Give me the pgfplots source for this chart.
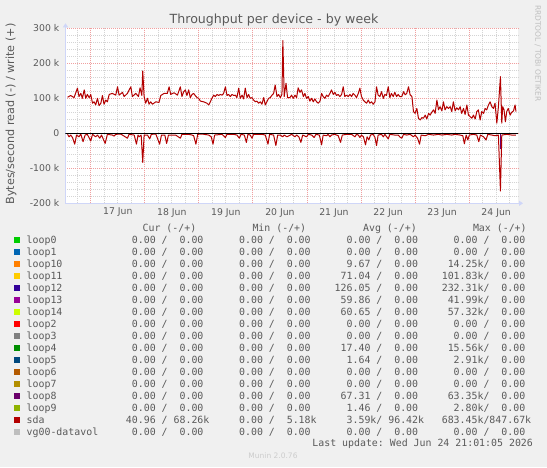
\documentclass[border=0pt]{standalone}
\usepackage{fontspec}
\setmainfont{DejaVu Sans}
\setmonofont{DejaVu Sans Mono}
\usepackage{pgfplots}
\pgfplotsset{compat=1.18}
\usepackage{pgfplotstable}
\usetikzlibrary{arrows.meta}

\definecolor{bgc}{HTML}{F0F0F0}
\definecolor{fontc}{HTML}{5A5A5A}
\definecolor{axisc}{HTML}{CFD6F8}
\definecolor{mgridc}{HTML}{F0A0A0}
\definecolor{gridc}{HTML}{D4D4D4}
\definecolor{c0}{HTML}{00CC00}
\definecolor{c1}{HTML}{0066B3}
\definecolor{c10}{HTML}{FF8000}
\definecolor{c11}{HTML}{FFCC00}
\definecolor{c12}{HTML}{330099}
\definecolor{c13}{HTML}{990099}
\definecolor{c14}{HTML}{CCFF00}
\definecolor{c2}{HTML}{FF0000}
\definecolor{c3}{HTML}{808080}
\definecolor{c4}{HTML}{008F00}
\definecolor{c5}{HTML}{00487D}
\definecolor{c6}{HTML}{B35A00}
\definecolor{c7}{HTML}{B38F00}
\definecolor{c8}{HTML}{6B006B}
\definecolor{c9}{HTML}{8FB300}
\definecolor{csda}{HTML}{B30000}
\definecolor{cvg}{HTML}{BEBEBE}

% sda write (+), hours since 17 Jun 00:00, kB/s
\pgfplotstableread{
h v
-10.3 103
-8.9 108
-7.4 102
-5.9 129
-5.2 105
-4.4 114
-3.7 100
-2.9 124
-2.2 100
-1.5 111
-0.7 102
0.0 111
0.8 86
1.5 90
2.2 81
3.0 100
3.7 79
4.5 86
5.2 108
5.9 83
6.7 95
7.4 90
8.2 111
9.6 114
11.1 109
11.9 133
12.6 109
14.1 117
14.8 105
16.3 114
17.8 133
18.5 105
20.0 114
21.2 105
21.9 130
22.7 108
23.1 178
23.7 105
24.4 86
25.2 100
25.9 83
26.6 90
27.4 83
28.9 90
30.3 88
31.1 108
32.6 114
34.0 114
34.8 133
35.5 111
37.0 116
38.5 109
39.8 133
40.5 105
41.3 119
42.0 124
42.7 108
43.5 124
44.2 102
45.0 111
45.7 114
46.4 108
47.2 102
47.9 100
48.7 92
50.1 90
51.6 86
52.4 81
53.1 90
53.8 100
54.6 109
55.3 105
56.1 111
56.8 108
57.5 111
58.3 109
59.0 114
59.8 133
60.5 108
61.2 111
62.0 105
62.7 111
63.5 108
64.2 109
64.9 102
65.7 129
66.4 100
67.2 109
67.9 98
68.6 129
69.4 102
70.1 111
70.8 100
71.6 102
72.3 95
73.1 90
73.8 92
74.5 86
75.3 90
76.0 83
76.8 102
77.5 81
78.2 90
79.0 100
79.7 102
80.5 109
81.2 114
81.9 138
82.7 105
83.4 111
84.2 102
84.9 111
85.3 265
85.9 105
86.7 143
87.4 102
88.4 102
89.2 109
89.9 100
90.7 109
91.4 102
92.1 130
92.9 117
93.6 124
94.4 105
95.1 114
95.8 100
96.6 105
97.3 92
98.1 100
98.8 90
99.5 98
100.3 90
101.0 86
101.8 92
102.5 114
103.2 105
104.0 100
104.7 109
105.4 105
106.2 114
106.9 124
107.7 111
108.4 117
109.1 108
109.9 111
110.6 105
111.4 111
112.1 133
112.8 105
113.6 109
114.3 105
115.1 111
115.8 105
116.5 114
117.3 109
118.0 102
118.8 114
119.5 129
120.2 105
121.0 95
121.7 90
122.5 86
123.2 95
123.9 86
124.7 90
125.4 83
126.2 90
126.9 133
127.6 109
128.4 105
129.1 119
129.9 100
130.6 111
131.3 108
132.1 133
132.8 102
133.5 114
134.3 105
135.0 117
135.8 105
136.5 111
137.2 105
138.1 105
138.9 119
139.6 110
140.3 114
141.1 133
141.8 110
142.6 105
143.3 62
144.0 57
144.8 71
145.5 43
146.3 38
147.0 45
147.7 43
148.5 52
149.2 41
150.0 57
150.7 52
151.4 60
152.2 67
152.9 57
153.7 95
154.4 67
155.1 76
155.9 64
156.6 90
157.3 67
158.1 76
158.8 71
159.6 76
160.3 62
161.0 90
161.8 64
162.5 73
163.3 67
164.0 76
164.7 57
165.5 71
166.2 54
167.0 81
167.7 52
168.4 48
169.2 43
169.9 52
170.7 41
171.4 62
172.1 67
172.9 38
173.6 62
174.4 57
175.1 71
175.8 67
176.6 81
177.3 90
178.1 76
178.8 71
179.5 86
180.3 29
181.0 76
181.9 162
182.5 29
182.9 76
183.5 67
184.1 33
184.7 62
185.4 71
186.2 52
186.9 60
187.7 64
188.4 81
188.8 62
}\sdawrite

% sda read (-)
\pgfplotstableread{
h v
-10.3 -3
-9.6 -10
-8.9 -5
-8.1 -12
-7.1 -31
-6.3 -5
-5.2 -10
-4.4 -2
-3.4 -24
-2.5 -5
-1.5 -3
0.0 -22
0.8 -3
2.2 -10
3.0 -5
4.0 -14
4.8 -5
6.4 -29
7.4 -3
9.6 -5
10.4 -8
11.1 -3
13.3 -2
16.3 -14
17.0 -3
19.3 -5
20.3 -31
21.0 -5
21.5 -10
22.4 -5
23.1 -83
23.7 -5
25.2 -5
26.2 -16
26.9 -3
28.9 -2
30.6 -31
31.4 -5
32.9 -5
33.7 -29
34.5 -5
36.3 -5
37.7 -5
39.8 -14
40.5 -3
43.5 -3
45.0 -5
45.7 -7
46.7 -31
47.5 -3
49.4 -2
52.4 -5
53.5 -10
54.3 -31
55.0 -5
58.3 -3
59.8 -12
60.5 -3
63.5 -3
64.9 -5
66.0 -14
66.7 -3
68.2 -5
69.1 -26
69.8 -3
70.8 -5
71.6 -14
72.3 -3
76.0 -3
77.5 -5
78.7 -31
79.4 -3
81.2 -5
82.2 -35
83.0 -5
84.2 -5
85.2 -10
85.9 -5
87.1 -10
89.2 -3
90.7 -10
91.4 -5
92.4 -10
93.3 -26
94.1 -5
95.8 -10
96.6 -3
98.1 -5
99.2 -12
100.0 -3
101.5 -5
102.5 -33
103.2 -5
104.7 -7
105.4 -3
106.2 -10
106.9 -5
108.4 -3
109.9 -7
110.9 -26
111.7 -5
113.6 -3
115.8 -3
117.3 -10
118.0 -3
118.8 -5
119.5 -12
120.2 -5
121.1 -10
122.0 -33
122.7 -10
123.5 -19
124.2 -5
125.4 -3
126.2 -12
126.9 -35
127.6 -5
129.1 -3
129.9 -10
130.6 -3
132.1 -16
132.8 -3
135.0 -5
136.5 -5
137.5 -12
138.1 -14
138.9 -3
140.3 -5
141.8 -3
143.3 -10
144.0 -5
145.1 -14
146.0 -31
146.7 -5
148.5 -7
150.0 -3
152.2 -5
154.4 -3
155.9 -5
158.1 -3
160.3 -5
161.8 -3
164.0 -5
165.2 -7
165.9 -30
166.7 -5
167.4 -19
168.1 -5
169.9 -3
171.4 -5
172.3 -24
173.0 -5
174.4 -10
175.5 -19
176.3 -3
178.1 -5
179.5 -7
181.0 -5
181.9 -165
182.5 -5
184.7 -3
186.9 -5
188.8 -5
}\sdaread

\newcommand{\lf}{\fontsize{9.9}{12}\selectfont\ttfamily}
\newcommand{\legrow}[7]{%
  \pgfmathsetmacro{\yb}{223.4-12*#1}%
  \pgfmathsetmacro{\ya}{224.2-12*#1}%
  \pgfmathsetmacro{\yc}{229.8-12*#1}%
  \fill[#2] (14pt,\ya pt) rectangle (19.6pt,\yc pt);
  \node[anchor=base west, inner sep=0pt, font=\lf, text=fontc] at (26.5pt,\yb pt) {#3};
  \node[anchor=base west, inner sep=0pt, font=\lf, text=fontc] at (119.8pt,\yb pt) {#4};
  \node[anchor=base west, inner sep=0pt, font=\lf, text=fontc] at (227pt,\yb pt) {#5};
  \node[anchor=base west, inner sep=0pt, font=\lf, text=fontc] at (334.5pt,\yb pt) {#6};
  \node[anchor=base west, inner sep=0pt, font=\lf, text=fontc] at (441.6pt,\yb pt) {#7};
}
\def\zz{~~0.00~/~~0.00}

\begin{document}
\begin{tikzpicture}[x=1pt,y=1pt]
\fill[bgc] (0pt,0pt) rectangle (547pt,467pt);
\useasboundingbox (0pt,0pt) rectangle (547pt,467pt);
\begin{axis}[
  at={(65.5pt,263.7pt)}, anchor=south west, scale only axis,
  width=452.5pt, height=175pt,
  xmin=-11.2, xmax=189.7, ymin=-200, ymax=300,
  axis background/.style={fill=white},
  axis lines*=left,
  axis line style={draw=axisc, line width=1pt},
  x axis line style={-{Triangle[length=4pt,width=5pt]}, shorten >=-5pt},
  y axis line style={-{Triangle[length=4pt,width=5pt]}, shorten >=-5pt},
  tick style={draw=none},
  ytick={-200,-100,0,100,200,300},
  yticklabels={-200 k,-100 k,0,100 k,200 k,300 k},
  minor y tick num=4,
  ymajorgrids, yminorgrids,
  xtick={12,36,60,84,108,132,156,180},
  xticklabels={17 Jun,18 Jun,19 Jun,20 Jun,21 Jun,22 Jun,23 Jun,24 Jun},
  xmajorgrids=false, xminorgrids,
  minor xtick={-6,6,12,18,30,36,42,54,60,66,78,84,90,102,108,114,126,132,138,150,156,162,174,180,186},
  extra x ticks={0,24,48,72,96,120,144,168},
  extra x tick labels={},
  extra x tick style={grid=major},
  major grid style={draw=mgridc, dash pattern=on 1pt off 1pt, line width=0.8pt},
  minor grid style={draw=gridc, dash pattern=on 1pt off 1pt, line width=0.8pt},
  ticklabel style={font=\fontsize{9.3}{11}\selectfont, text=fontc},
  yticklabel style={anchor=east, inner sep=0pt, xshift=-6pt},
  xticklabel style={anchor=north, inner sep=0pt, yshift=-4.7pt},
  clip=true,
]
\addplot[csda, line width=1pt, line join=round] table[x=h,y=v] {\sdawrite};
\addplot[csda, line width=1pt, line join=round] table[x=h,y=v] {\sdaread};
\addplot[c8, line width=1.4pt] coordinates {(181.9,0) (181.9,-45)};
\addplot[black, line width=1pt] coordinates {(-11.2,0) (189.7,0)};
\end{axis}

% title, labels
\node[anchor=base, inner sep=0pt, font=\fontsize{12.6}{14}\selectfont, text=fontc] at (274pt,443.7pt) {Throughput per device - by week};
\node[rotate=90, inner sep=0pt, font=\fontsize{11.2}{13}\selectfont, text=fontc] at (11pt,353pt) {Bytes/second read (-) / write (+)};
\node[rotate=-90, inner sep=0pt, font=\fontsize{7.5}{9}\selectfont, text=cvg] at (537.7pt,413.7pt) {RRDTOOL / TOBI OETIKER};

% legend header
\node[anchor=base west, inner sep=0pt, font=\lf, text=fontc] at (142.4pt,235.7pt) {Cur~(-/+)};
\node[anchor=base west, inner sep=0pt, font=\lf, text=fontc] at (252.3pt,235.7pt) {Min~(-/+)};
\node[anchor=base west, inner sep=0pt, font=\lf, text=fontc] at (362.9pt,235.7pt) {Avg~(-/+)};
\node[anchor=base west, inner sep=0pt, font=\lf, text=fontc] at (472.8pt,235.7pt) {Max~(-/+)};

\legrow{0}{c0}{loop0}{\zz}{\zz}{\zz}{\zz}
\legrow{1}{c1}{loop1}{\zz}{\zz}{\zz}{\zz}
\legrow{2}{c10}{loop10}{\zz}{\zz}{~~9.67~/~~0.00}{~14.25k/~~0.00}
\legrow{3}{c11}{loop11}{\zz}{\zz}{~71.04~/~~0.00}{101.83k/~~0.00}
\legrow{4}{c12}{loop12}{\zz}{\zz}{126.05~/~~0.00}{232.31k/~~0.00}
\legrow{5}{c13}{loop13}{\zz}{\zz}{~59.86~/~~0.00}{~41.99k/~~0.00}
\legrow{6}{c14}{loop14}{\zz}{\zz}{~60.65~/~~0.00}{~57.32k/~~0.00}
\legrow{7}{c2}{loop2}{\zz}{\zz}{\zz}{\zz}
\legrow{8}{c3}{loop3}{\zz}{\zz}{\zz}{\zz}
\legrow{9}{c4}{loop4}{\zz}{\zz}{~17.40~/~~0.00}{~15.56k/~~0.00}
\legrow{10}{c5}{loop5}{\zz}{\zz}{~~1.64~/~~0.00}{~~2.91k/~~0.00}
\legrow{11}{c6}{loop6}{\zz}{\zz}{\zz}{\zz}
\legrow{12}{c7}{loop7}{\zz}{\zz}{\zz}{\zz}
\legrow{13}{c8}{loop8}{\zz}{\zz}{~67.31~/~~0.00}{~63.35k/~~0.00}
\legrow{14}{c9}{loop9}{\zz}{\zz}{~~1.46~/~~0.00}{~~2.80k/~~0.00}
\legrow{15}{csda}{sda}{~40.96~/~68.26k}{~~0.00~/~~5.18k}{~~3.59k/~96.42k}{683.45k/847.67k}
\legrow{16}{cvg}{vg00-datavol}{\zz}{\zz}{\zz}{\zz}

\node[anchor=base east, inner sep=0pt, font=\lf, text=fontc] at (533.1pt,20.1pt) {Last~update:~Wed~Jun~24~21:01:05~2026};
\node[inner sep=0pt, font=\fontsize{7.5}{9}\selectfont, text=black!20] at (273pt,11.3pt) {Munin 2.0.76};
\end{tikzpicture}
\end{document}
